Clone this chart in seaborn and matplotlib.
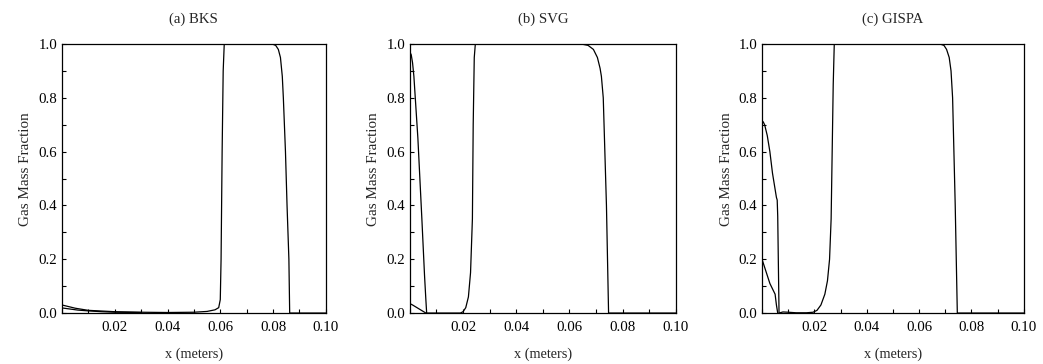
import numpy as np
import pandas as pd
import matplotlib
matplotlib.use("Agg")
import matplotlib.pyplot as plt
import seaborn as sns
from matplotlib.ticker import MultipleLocator, FixedLocator

titles = ["(a) BKS", "(b) SVG", "(c) GISPA"]

# Panel (a) BKS
bks_main_x = [0.0, 0.005, 0.01, 0.02, 0.03, 0.04, 0.05, 0.055, 0.058, 0.0594, 0.0600, 0.0603,
              0.0607, 0.0611, 0.0615, 0.07, 0.0797, 0.081, 0.082, 0.0828, 0.0835, 0.0839, 0.0847,
              0.0853, 0.0860, 0.0863, 0.09, 0.1]
bks_main_y = [0.03, 0.018, 0.010, 0.005, 0.003, 0.002, 0.003, 0.006, 0.012, 0.02, 0.05, 0.2,
              0.6, 0.9, 1.0, 1.0, 1.0, 0.995, 0.98, 0.95, 0.88, 0.80, 0.60,
              0.40, 0.20, 0.0, 0.0, 0.0]
bks_in_x = [0.0, 0.003, 0.006, 0.01, 0.015, 0.02, 0.03]
bks_in_y = [0.019, 0.015, 0.011, 0.008, 0.005, 0.003, 0.002]

# Panel (b) SVG
svg_main_x = [0.0063, 0.01, 0.015, 0.019, 0.0200, 0.0210, 0.0220, 0.0228, 0.0235, 0.0238,
              0.0242, 0.0246, 0.03, 0.05, 0.0645, 0.067, 0.069, 0.0705, 0.0715, 0.072, 0.0727,
              0.0733, 0.0739, 0.0743, 0.0747, 0.08, 0.1]
svg_main_y = [0.0, 0.0, 0.0, 0.0, 0.005, 0.02, 0.06, 0.15, 0.35, 0.7,
              0.95, 1.0, 1.0, 1.0, 1.0, 0.995, 0.98, 0.95, 0.91, 0.88, 0.80,
              0.6, 0.4, 0.2, 0.0, 0.0, 0.0]
svg_in1_x = [0.0, 0.0005, 0.001, 0.0015, 0.003, 0.0045, 0.0055, 0.006, 0.0063]
svg_in1_y = [0.97, 0.96, 0.93, 0.88, 0.65, 0.35, 0.14, 0.05, 0.0]
svg_in2_x = [0.0, 0.001, 0.002, 0.003, 0.004, 0.005, 0.006]
svg_in2_y = [0.035, 0.030, 0.024, 0.018, 0.012, 0.006, 0.0]

# Panel (c) GISPA
gis_main_x = [0.0065, 0.008, 0.01, 0.013, 0.017, 0.0195, 0.021, 0.0225, 0.024, 0.025, 0.0258,
              0.0264, 0.0268, 0.0272, 0.0276, 0.035, 0.05, 0.068, 0.0695, 0.0705, 0.0715,
              0.0722, 0.0728, 0.0733, 0.0738, 0.0742, 0.0746, 0.08, 0.1]
gis_main_y = [0.0, 0.004, 0.003, 0.001, 0.001, 0.003, 0.01, 0.03, 0.07, 0.12, 0.2,
              0.35, 0.6, 0.85, 1.0, 1.0, 1.0, 1.0, 0.995, 0.98, 0.95,
              0.9, 0.8, 0.6, 0.4, 0.2, 0.0, 0.0, 0.0]
gis_in1_x = [0.0, 0.0005, 0.001, 0.002, 0.003, 0.004, 0.0055, 0.0058, 0.006, 0.0065]
gis_in1_y = [0.715, 0.71, 0.70, 0.66, 0.60, 0.52, 0.43, 0.42, 0.36, 0.0]
gis_in2_x = [0.0, 0.001, 0.002, 0.003, 0.004, 0.005, 0.0055, 0.006]
gis_in2_y = [0.20, 0.17, 0.14, 0.11, 0.09, 0.07, 0.03, 0.0]

panels = [
    [(bks_main_x, bks_main_y), (bks_in_x, bks_in_y)],
    [(svg_main_x, svg_main_y), (svg_in1_x, svg_in1_y), (svg_in2_x, svg_in2_y)],
    [(gis_main_x, gis_main_y), (gis_in1_x, gis_in1_y), (gis_in2_x, gis_in2_y)],
]

x_major = [0.02, 0.04, 0.06, 0.08, 0.10]
x_labels = ["0.02", "0.04", "0.06", "0.08", "0.10"]
y_major = [0.0, 0.2, 0.4, 0.6, 0.8, 1.0]
y_labels = ["0.0", "0.2", "0.4", "0.6", "0.8", "1.0"]

sns.set_style("ticks")
plt.rcParams["font.family"] = ["Liberation Serif", "DejaVu Serif"]
plt.rcParams["font.size"] = 10

fig = plt.figure(figsize=(10.43, 3.64), dpi=100)
lefts = [0.0594, 0.393, 0.7306]
widths = [0.253, 0.255, 0.251]
bottom, height = 0.140, 0.739

for i in range(3):
    ax = fig.add_axes([lefts[i], bottom, widths[i], height])
    for (xs, ys) in panels[i]:
        df = pd.DataFrame({"x": xs, "y": ys})
        sns.lineplot(data=df, x="x", y="y", ax=ax, color="black", linewidth=0.9,
                     sort=False, estimator=None)
    ax.set_xlim(0, 0.1)
    ax.set_ylim(0, 1.0)
    ax.xaxis.set_major_locator(FixedLocator(x_major))
    ax.set_xticklabels(x_labels)
    ax.xaxis.set_minor_locator(MultipleLocator(0.01))
    ax.yaxis.set_major_locator(FixedLocator(y_major))
    ax.set_yticklabels(y_labels)
    ax.yaxis.set_minor_locator(MultipleLocator(0.1))
    ax.tick_params(which="both", direction="in", length=3, width=0.8, labelsize=10.7,
                   colors="black", top=False, right=False)
    ax.tick_params(axis="x", pad=6)
    for s in ax.spines.values():
        s.set_visible(True)
        s.set_linewidth(0.9)
        s.set_color("black")
    ax.set_xlabel("x (meters)", fontsize=10.3)
    ax.set_ylabel("Gas Mass Fraction", fontsize=10.9)
    ax.xaxis.set_label_coords(0.5, -0.130)
    ax.yaxis.set_label_coords(-0.112, 0.535)
    ax.set_title(titles[i], fontsize=10.6, y=1.078, pad=0)

fig.savefig("out.png", dpi=100)
